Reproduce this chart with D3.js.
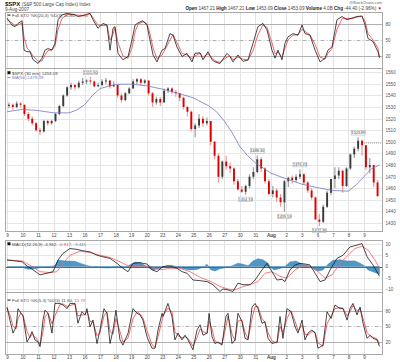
<!DOCTYPE html>
<html>
<head>
<meta charset="utf-8">
<script src="https://cdn.jsdelivr.net/npm/d3@7"></script>
<style>
  body { margin: 0; background: #fff; }
  text { font-family: "Liberation Sans", Arial, sans-serif; }
</style>
</head>
<body>
<div id="chart"></div>
<script>
// ---- data (30 min $SPX, 9 Jul - 9 Aug 2007) ----
var dayLabels = ["9", "10", "11", "12", "13", "16", "17", "18", "19", "20", "23", "24", "25",
  "26", "27", "30", "31", "Aug", "2", "3", "6", "7", "8", "9"];

// four bars per trading day, open = previous close
var firstOpen = 1531;
var highs = [
  1534, 1533, 1535, 1534, 1532, 1526, 1522, 1517, 1512, 1519, 1519, 1519,
  1525, 1532, 1541, 1548, 1551, 1550, 1553, 1555, 1554, 1555.9, 1553, 1551,
  1554, 1555, 1553, 1552, 1549, 1542, 1543, 1547, 1554, 1555, 1555, 1554,
  1553, 1543, 1539, 1539, 1546, 1547, 1547, 1545, 1542, 1539, 1531, 1527,
  1516, 1524, 1522, 1521, 1518, 1501, 1490, 1484, 1488, 1482, 1478, 1468,
  1462, 1463, 1472, 1478, 1488.3, 1487, 1478, 1468, 1462, 1460, 1455, 1467,
  1470, 1471, 1472, 1476.4, 1473, 1466, 1460, 1453, 1438, 1446, 1458, 1468,
  1478, 1478, 1476, 1478, 1490, 1496, 1503.9, 1502, 1497, 1486, 1480, 1467];
var lows = [
  1529, 1528, 1529, 1530, 1522, 1518, 1514, 1509, 1506, 1508, 1514, 1515,
  1517, 1523, 1530, 1539, 1545, 1545, 1546, 1549, 1550, 1550, 1547, 1547,
  1548, 1550, 1546, 1547, 1538, 1534, 1535, 1541, 1546, 1550, 1549, 1550,
  1540, 1530, 1532, 1531, 1534, 1542, 1541, 1539, 1535, 1528, 1522, 1509,
  1504, 1512, 1513, 1514, 1497, 1485, 1465, 1468, 1476, 1473, 1463, 1458,
  1456, 1454.3, 1460, 1468, 1473, 1474, 1464, 1454, 1452, 1448, 1444, 1439.6,
  1461, 1464, 1465, 1468, 1463, 1456, 1450, 1433, 1427.4, 1430, 1443, 1454,
  1460, 1468, 1456, 1461, 1476, 1486, 1492, 1488, 1476, 1473, 1461, 1453];
var closes = [
  1532, 1530, 1533, 1532, 1524, 1520, 1516, 1510, 1509, 1518, 1516, 1518,
  1524, 1531, 1540, 1547, 1549, 1547, 1551, 1552, 1553, 1552, 1548, 1549,
  1552, 1553, 1548, 1549, 1540, 1536, 1542, 1546, 1552, 1554, 1551, 1553,
  1542, 1534, 1537, 1534, 1544, 1546, 1543, 1542, 1538, 1530, 1526, 1511,
  1514, 1520, 1516, 1518, 1500, 1488, 1470, 1483, 1479, 1477, 1466, 1459,
  1457, 1462, 1470, 1474, 1485, 1477, 1466, 1455, 1458, 1452, 1448, 1466,
  1469, 1467, 1470, 1472, 1465, 1458, 1452, 1433, 1431, 1444, 1456, 1468,
  1471, 1475, 1462, 1477, 1489, 1494, 1501, 1497, 1478, 1480, 1465, 1453.09];

// MA(50) as [day, value]
var maLine = [[0, 1526], [1, 1528], [2, 1527], [3, 1525], [4, 1525], [4.5, 1527.5], [5, 1532],
  [5.5, 1540], [6, 1546], [7, 1549.6], [8, 1549.8], [9, 1548.3], [10, 1545.5], [11, 1542],
  [12, 1538], [13, 1531], [13.5, 1526], [14, 1518], [14.5, 1508], [15, 1496], [15.5, 1488],
  [16, 1482], [17, 1473], [18, 1468], [19, 1463.5], [20, 1460.5], [21, 1458], [22, 1457.5],
  [22.5, 1463], [23, 1470], [23.5, 1477], [24, 1480]];
var prevClose = 1499;

// price labels: [day, price, above?]
var priceNotes = [[5.375, 1555.90, true], [15.375, 1454.33, false], [16.125, 1488.30, true],
  [17.875, 1439.59, false], [18.875, 1476.43, true], [20.125, 1427.39, false], [22.625, 1503.89, true]];

// Full STO(20,3) upper panel
var stoTopT = [0, 0.32, 0.52, 0.71, 0.97, 1.10, 1.29, 1.48, 1.68, 2.00, 2.26, 2.45, 2.64, 2.90, 3.09,
  3.29, 3.54, 3.87, 4.38, 4.57, 5.03, 5.35, 5.54, 5.86, 6.19, 6.44, 6.64, 6.83, 6.96, 7.15, 7.47,
  7.80, 8.05, 8.25, 8.44, 8.76, 9.02, 9.21, 9.41, 9.66, 9.99, 10.18, 10.50, 10.70, 10.95, 11.28,
  11.60, 11.92, 12.11, 12.44, 12.63, 12.95, 13.21, 13.40, 13.72, 14.18, 14.37, 14.56, 14.88,
  15.21, 15.53, 15.85, 16.17, 16.49, 16.75, 17.07, 17.27, 17.46, 17.72, 17.91, 18.11, 18.43,
  18.75, 19.01, 19.20, 19.52, 19.85, 20.17, 20.49, 20.68, 20.94, 21.26, 21.59, 21.91, 22.23,
  22.55, 22.87, 23.07, 23.26, 23.58, 23.90, 24.00];
var stoTopK = [91, 78, 75, 81, 86, 31, 28, 28, 13, 6, 16, 31, 34, 31, 44, 88, 97, 100, 97, 94,
  97, 100, 88, 72, 81, 78, 31, 72, 75, 25, 13, 19, 50, 78, 82, 86, 78, 50, 22, 9, 31, 34, 62, 59,
  37, 19, 25, 9, 25, 26, 13, 28, 13, 9, 6, 25, 19, 9, 22, 10, 13, 44, 75, 81, 69, 31, 16, 31, 13,
  44, 56, 62, 59, 78, 62, 59, 31, 9, 16, 31, 37, 88, 94, 88, 91, 94, 95, 78, 53, 47, 28, 16.8];
var stoTopD = [88, 82, 77, 78, 82, 55, 35, 29, 20, 10, 11, 22, 30, 32, 38, 70, 90, 98, 98, 95,
  96, 99, 92, 78, 77, 78, 50, 60, 73, 45, 20, 16, 35, 65, 80, 84, 81, 62, 35, 15, 22, 32, 50, 60,
  45, 25, 22, 15, 20, 25, 18, 24, 17, 11, 8, 18, 20, 13, 18, 14, 12, 30, 60, 78, 74, 45, 24, 27,
  18, 35, 50, 59, 60, 70, 66, 60, 42, 18, 14, 25, 34, 70, 90, 90, 90, 93, 94, 85, 62, 50, 35, 16.8];

// MACD(12,26,9)
var macdLine = [[0, 2.9], [0.97, 2.1], [1.29, 0.2], [1.68, -1.5], [2.13, -3.7], [2.58, -3.0],
  [2.96, -2.3], [3.29, 2.9], [3.61, 5.8], [4.06, 8.0], [4.51, 7.6], [4.90, 7.0], [5.35, 6.5],
  [5.80, 5.0], [6.19, 4.3], [6.64, 3.6], [7.09, 1.4], [7.47, -0.8], [7.80, -2.3], [8.12, 1.4],
  [8.57, 1.7], [9.02, 1.1], [9.34, -1.5], [9.66, -2.3], [10.05, 0.0], [10.50, 0.2], [10.95, -0.8],
  [11.28, -2.3], [11.60, -3.0], [11.98, -6.0], [12.44, -6.3], [12.89, -6.7], [13.27, -8.1],
  [13.72, -11.1], [13.92, -10.0], [14.24, -10.4], [14.56, -11.1], [14.88, -7.4], [15.21, -8.1],
  [15.66, -8.1], [15.98, -6.0], [16.43, -1.5], [16.75, 1.4], [17.07, -2.3], [17.40, -6.0],
  [17.72, -5.7], [17.91, -6.7], [18.23, -1.5], [18.56, 0.7], [18.88, 1.4], [19.20, 1.1],
  [19.52, 0.7], [19.85, -3.0], [20.17, -6.7], [20.49, -6.0], [20.82, -1.5], [21.26, 3.6],
  [21.65, 5.0], [22.10, 8.7], [22.55, 9.5], [22.87, 10.2], [23.20, 4.3], [23.58, 0.7], [24.00, -4.36]];
var macdSignal = [[0, 2.9], [0.97, 2.5], [1.68, -0.2], [2.13, -2.3], [2.77, -2.7], [3.22, -2.3],
  [3.61, 1.4], [4.06, 5.0], [4.70, 6.8], [5.35, 6.2], [5.99, 5.0], [6.64, 4.0], [7.28, 2.1],
  [7.93, -0.2], [8.57, 0.2], [9.21, 0.2], [9.86, -1.5], [10.50, -0.8], [11.15, -0.8], [11.79, -2.3],
  [12.44, -4.8], [12.89, -6.0], [13.27, -7.1], [13.72, -8.9], [14.24, -10.0], [14.69, -10.4],
  [15.21, -8.9], [15.66, -8.1], [16.17, -6.7], [16.62, -3.0], [17.07, -2.3], [17.59, -4.4],
  [18.04, -5.2], [18.56, -1.5], [19.01, 0.2], [19.52, 0.2], [20.04, -2.3], [20.49, -5.2],
  [20.94, -3.7], [21.46, 1.4], [21.97, 5.0], [22.42, 8.0], [22.87, 9.0], [23.26, 7.3],
  [23.71, 2.9], [24.00, -0.92]];
var macdHist = [[0, 0], [0.84, 0], [1.03, -0.5], [1.35, -1.2], [1.80, -1.0], [2.13, -0.5],
  [2.64, -0.3], [3.09, 0.5], [3.29, 2.9], [3.74, 2.5], [4.38, 2.3], [4.70, 1.5], [5.22, 0.3],
  [5.99, -0.5], [6.51, -0.7], [7.15, -0.2], [7.60, -0.5], [7.93, 0.8], [8.25, 2.0], [8.57, 1.8],
  [8.89, 0.5], [9.21, -1.0], [9.41, -1.5], [9.86, -0.8], [10.31, 0.5], [10.63, 0.5], [10.95, 0],
  [11.34, -1.0], [11.79, -1.5], [12.24, -1.3], [12.63, -0.3], [12.89, 1.0], [13.14, -1.5],
  [13.40, -2.0], [13.72, -1.0], [14.24, -0.3], [14.56, 0.5], [14.88, 1.5], [15.21, 1.0],
  [15.53, 0.3], [15.85, 2.5], [16.17, 3.5], [16.49, 3.0], [16.82, 1.5], [17.01, -0.5],
  [17.20, -1.5], [17.53, -1.0], [17.85, -0.3], [18.23, 2.0], [18.62, 2.5], [19.01, 1.0],
  [19.39, 0.5], [19.72, -1.0], [20.04, -2.0], [20.36, -1.5], [20.68, 1.0], [21.00, 2.8],
  [21.46, 3.0], [21.91, 2.5], [22.42, 2.5], [22.75, 1.5], [23.00, 0.5], [23.26, -1.5],
  [23.65, -2.5], [24.00, -3.44]];

// Full STO(5,3) lower panel
var stoBotT = [0, 0.19, 0.39, 0.58, 0.71, 0.90, 1.03, 1.29, 1.48, 1.61, 1.80, 2.00, 2.13, 2.32,
  2.45, 2.64, 2.90, 3.09, 3.41, 3.61, 3.87, 4.06, 4.38, 4.57, 4.83, 5.03, 5.15, 5.35, 5.54, 5.80,
  5.99, 6.25, 6.44, 6.64, 6.83, 7.02, 7.28, 7.47, 7.80, 8.12, 8.38, 8.57, 8.76, 9.02, 9.34, 9.54,
  9.73, 9.99, 10.05, 10.37, 10.63, 10.82, 11.02, 11.28, 11.47, 11.66, 11.98, 12.24, 12.44, 12.63,
  12.89, 13.02, 13.21, 13.40, 13.60, 13.85, 14.11, 14.24, 14.50, 14.69, 14.88, 15.14, 15.34,
  15.53, 15.79, 15.98, 16.17, 16.43, 16.62, 16.82, 17.07, 17.40, 17.59, 17.78, 18.04, 18.30,
  18.56, 18.75, 19.01, 19.20, 19.39, 19.65, 19.85, 20.04, 20.36, 20.62, 20.88, 21.13, 21.46,
  21.65, 21.91, 22.10, 22.29, 22.55, 22.75, 22.94, 23.20, 23.39, 23.58, 23.84, 24.00];
var stoBotK = [87, 62, 37, 49, 84, 75, 70, 20, 30, 40, 24, 20, 11, 62, 81, 75, 37, 94, 94, 91,
  84, 94, 94, 56, 78, 72, 84, 49, 62, 17, 43, 84, 75, 17, 43, 81, 24, 14, 37, 84, 75, 72, 62, 30,
  8, 8, 43, 75, 69, 94, 69, 24, 37, 24, 33, 24, 5, 43, 53, 33, 37, 75, 30, 17, 20, 14, 69, 75, 17,
  24, 75, 59, 27, 24, 87, 94, 84, 56, 59, 27, 17, 20, 69, 27, 84, 78, 49, 37, 62, 24, 37, 43, 37,
  8, 14, 78, 65, 91, 84, 84, 62, 84, 94, 72, 87, 56, 27, 33, 27, 24, 11.6];
var stoBotD = [85, 72, 50, 45, 65, 76, 72, 40, 28, 35, 30, 22, 15, 40, 68, 76, 55, 70, 92, 93,
  88, 90, 93, 70, 72, 72, 80, 60, 58, 32, 38, 70, 78, 40, 35, 65, 40, 20, 28, 65, 78, 74, 66, 42,
  15, 10, 30, 62, 70, 85, 78, 40, 32, 28, 30, 27, 12, 28, 45, 40, 36, 60, 45, 22, 18, 16, 50, 70,
  35, 22, 60, 62, 38, 26, 65, 88, 88, 65, 58, 38, 22, 18, 50, 38, 65, 80, 60, 42, 52, 35, 33, 40,
  39, 18, 12, 55, 70, 84, 86, 85, 70, 78, 90, 80, 84, 65, 38, 32, 29, 26, 15.73];

var priceTicks = d3.range(1430, 1561, 10);
var stoTicks = [20, 50, 80];
var macdTicks = [-10, -5, 0, 5, 10];

// ---- layout ----
var W = 400, H = 362;
var left = 5.5, right = 382.5;
var svg = d3.select("#chart").append("svg").attr("width", W).attr("height", H);

var x = d3.scaleLinear().domain([0, 24]).range([7, 379.5]);

var pTop = { top: 12.5, bottom: 68.5 },
    pPrice = { top: 68.5, bottom: 231.5 },
    pMacd = { top: 240.5, bottom: 292.5 },
    pBot = { top: 292.5, bottom: 354.5 };

var yTop = d3.scaleLinear().domain([0, 100]).range([66.7, 13.3]);
var yPrice = d3.scaleLinear().domain([1430, 1560]).range([223, 72.3]);
var yMacd = d3.scaleLinear().domain([-10, 10]).range([289, 244]);
var yBot = d3.scaleLinear().domain([0, 100]).range([352.4, 300.3]);

var defs = svg.append("defs");
function panel(p, id) {
  defs.append("clipPath").attr("id", id)
    .append("rect").attr("x", left).attr("y", p.top).attr("width", right - left).attr("height", p.bottom - p.top);
  var g = svg.append("g");
  // vertical day grid
  g.selectAll("line.vg").data(d3.range(24)).enter().append("line")
    .attr("x1", function (d) { return Math.round(x(d)) + 0.5; })
    .attr("x2", function (d) { return Math.round(x(d)) + 0.5; })
    .attr("y1", p.top).attr("y2", p.bottom)
    .attr("stroke", "#e3e3e3").attr("stroke-width", 1);
  return g;
}
function frame(p) {
  svg.append("rect").attr("x", left).attr("y", p.top)
    .attr("width", right - left).attr("height", p.bottom - p.top)
    .attr("fill", "none").attr("stroke", "#a8a8a8").attr("stroke-width", 1);
}
function rightAxis(scale, ticks, fmt) {
  var ax = svg.append("g").attr("transform", "translate(" + (right + 1) + ",0)")
    .call(d3.axisRight(scale).tickValues(ticks).tickSize(0).tickPadding(2).tickFormat(fmt || d3.format("d")));
  ax.select(".domain").remove();
  ax.selectAll("text").attr("font-size", 4.6).attr("fill", "#555").style("font-family", "Liberation Sans, Arial, sans-serif");
}
function hline(g, y, color, dash) {
  g.append("line").attr("x1", left).attr("x2", right)
    .attr("y1", Math.round(y) + 0.5).attr("y2", Math.round(y) + 0.5)
    .attr("stroke", color).attr("stroke-width", 1)
    .attr("stroke-dasharray", dash || null);
}
function dateAxis(yPos) {
  var ax = svg.append("g").attr("transform", "translate(0," + yPos + ")")
    .call(d3.axisBottom(x).tickValues(d3.range(24)).tickSize(0).tickPadding(0)
      .tickFormat(function (d) { return dayLabels[d]; }));
  ax.select(".domain").remove();
  ax.selectAll("text").attr("font-size", 4.6).attr("fill", "#444")
    .style("font-family", "Liberation Sans, Arial, sans-serif")
    .attr("font-weight", function (d) { return dayLabels[d] === "Aug" ? "bold" : null; });
}
function series(g, clip, pts, scale, color, width) {
  g.append("path").datum(pts)
    .attr("clip-path", "url(#" + clip + ")")
    .attr("fill", "none").attr("stroke", color).attr("stroke-width", width)
    .attr("stroke-linejoin", "round")
    .attr("d", d3.line().x(function (d) { return x(d[0]); }).y(function (d) { return scale(d[1]); }));
}
function zip(ts, vs) { return ts.map(function (t, i) { return [t, vs[i]]; }); }

// ---- header ----
var hdr = svg.append("g").attr("font-size", 4.6).attr("fill", "#444");
hdr.append("text").attr("x", 5).attr("y", 6.3)
  .html('<tspan font-weight="bold" font-size="6" fill="#111">$SPX</tspan> <tspan>(S&amp;P 500 Large Cap Index) Index</tspan>');
hdr.append("text").attr("x", 5).attr("y", 11.2).text("9-Aug-2007");
hdr.append("text").attr("x", 382).attr("y", 4.2).attr("text-anchor", "end").attr("font-size", 3.8).attr("fill", "#666").text("@StockCharts.com");
hdr.append("text").attr("x", 382).attr("y", 10).attr("text-anchor", "end")
  .html('<tspan font-weight="bold" fill="#222">Open</tspan> 1467.21 <tspan font-weight="bold" fill="#222">High</tspan> 1467.21 ' +
    '<tspan font-weight="bold" fill="#222">Low</tspan> 1453.09 <tspan font-weight="bold" fill="#222">Close</tspan> 1453.09 ' +
    '<tspan font-weight="bold" fill="#222">Volume</tspan> 4.0B <tspan font-weight="bold" fill="#222">Chg</tspan> -44.40 (-2.96%) ' +
    '<tspan fill="#d00">\u25BC</tspan>');

// ---- top STO panel ----
var gTop = panel(pTop, "cTop");
hline(gTop, yTop(80), "#b0b0b0");
hline(gTop, yTop(20), "#b0b0b0");
hline(gTop, yTop(50), "#b0b0b0", "4,2,1,2");
series(gTop, "cTop", zip(stoTopT, stoTopD), yTop, "#f25555", 0.9);
series(gTop, "cTop", zip(stoTopT, stoTopK), yTop, "#1a1a1a", 0.8);
frame(pTop);
rightAxis(yTop, stoTicks);
var lgTop = svg.append("g").attr("font-size", 4.4).attr("fill", "#444");
lgTop.append("rect").attr("x", 7.5).attr("y", 14.6).attr("width", 3).attr("height", 1).attr("fill", "#111");
lgTop.append("text").attr("x", 12).attr("y", 16.5)
  .html('Full STO %K(20,3) %D(3) 16.80, <tspan fill="#e44">16.80</tspan>');

// ---- price panel ----
var gPrice = panel(pPrice, "cPrice");
priceTicks.forEach(function (v) { hline(gPrice, yPrice(v), "#e6e6e6"); });

var bars = closes.map(function (c, i) {
  return {
    t: Math.floor(i / 4) + (i % 4 + 0.5) / 4,
    o: i ? closes[i - 1] : firstOpen,
    h: highs[i], l: lows[i], c: c
  };
});
var gBars = gPrice.append("g").attr("clip-path", "url(#cPrice)");
gBars.selectAll("line.wick").data(bars).enter().append("line")
  .attr("x1", function (d) { return x(d.t); }).attr("x2", function (d) { return x(d.t); })
  .attr("y1", function (d) { return yPrice(d.h); }).attr("y2", function (d) { return yPrice(d.l); })
  .attr("stroke", function (d) { return d.c < d.o ? "#ef9a9a" : "#9e9e9e"; })
  .attr("stroke-width", 1.2);
gBars.selectAll("line.body").data(bars).enter().append("line")
  .attr("x1", function (d) { return x(d.t); }).attr("x2", function (d) { return x(d.t); })
  .attr("y1", function (d) { return yPrice(d.o); })
  .attr("y2", function (d) { return yPrice(d.c) + (Math.abs(d.c - d.o) < 0.8 ? 0.8 : 0); })
  .attr("stroke", function (d) { return d.c < d.o ? "#dd0000" : "#3a3a3a"; })
  .attr("stroke-width", 1.9);

series(gPrice, "cPrice", maLine, yPrice, "#7377c0", 0.8);

// previous close marker on the last day
gPrice.append("line").attr("x1", x(23)).attr("x2", right)
  .attr("y1", yPrice(prevClose)).attr("y2", yPrice(prevClose))
  .attr("stroke", "#777").attr("stroke-width", 0.7).attr("stroke-dasharray", "1,1");

// price notes
var notes = gPrice.selectAll("g.note").data(priceNotes).enter().append("g")
  .attr("transform", function (d) {
    var yy = d[2] ? yPrice(d[1]) - 4.5 : yPrice(d[1]) + 4.5;
    return "translate(" + x(d[0]) + "," + yy + ")";
  });
notes.append("rect").attr("x", -7).attr("y", -2.2).attr("width", 14).attr("height", 4.4)
  .attr("fill", "#fff").attr("stroke", "#aaa").attr("stroke-width", 0.5);
notes.append("text").attr("text-anchor", "middle").attr("y", 1.4).attr("font-size", 3.8).attr("fill", "#444")
  .text(function (d) { return d[1].toFixed(2); });

frame(pPrice);
rightAxis(yPrice, priceTicks);
var lgPrice = svg.append("g").attr("font-size", 4.4);
lgPrice.append("rect").attr("x", 7.5).attr("y", 71.2).attr("width", 3).attr("height", 3).attr("fill", "#111");
lgPrice.append("text").attr("x", 12).attr("y", 74.5).attr("fill", "#444").text("$SPX (30 min) 1453.09");
lgPrice.append("rect").attr("x", 7.5).attr("y", 77.2).attr("width", 3).attr("height", 0.8).attr("fill", "#7377c0");
lgPrice.append("text").attr("x", 12).attr("y", 79.3).attr("fill", "#7377c0").text("MA(50) 1479.39");

dateAxis(234);

// ---- MACD panel ----
var gMacd = panel(pMacd, "cMacd");
macdTicks.forEach(function (v) { hline(gMacd, yMacd(v), v === 0 ? "#d6d6d6" : "#e6e6e6"); });
gMacd.append("path").datum(macdHist)
  .attr("clip-path", "url(#cMacd)")
  .attr("fill", "#3c8dc0").attr("fill-opacity", 0.9)
  .attr("stroke", "#2a75a8").attr("stroke-width", 0.4)
  .attr("d", d3.area().x(function (d) { return x(d[0]); }).y0(yMacd(0)).y1(function (d) { return yMacd(d[1]); }));
hline(gMacd, yMacd(0), "#2a75a8");
series(gMacd, "cMacd", macdSignal, yMacd, "#f26060", 0.8);
series(gMacd, "cMacd", macdLine, yMacd, "#1a1a1a", 0.8);
frame(pMacd);
rightAxis(yMacd, macdTicks);
var lgMacd = svg.append("g").attr("font-size", 4.4);
lgMacd.append("rect").attr("x", 7.5).attr("y", 242.3).attr("width", 3).attr("height", 3).attr("fill", "#111");
lgMacd.append("text").attr("x", 12).attr("y", 245.5).attr("fill", "#444")
  .html('MACD(12,26,9) -4.362, <tspan fill="#e44">-0.917</tspan>, <tspan fill="#3c8dc0">-3.445</tspan>');

// ---- bottom STO panel ----
var gBot = panel(pBot, "cBot");
hline(gBot, yBot(80), "#b0b0b0");
hline(gBot, yBot(20), "#b0b0b0");
hline(gBot, yBot(50), "#b0b0b0", "4,2,1,2");
series(gBot, "cBot", zip(stoBotT, stoBotD), yBot, "#f25555", 0.9);
series(gBot, "cBot", zip(stoBotT, stoBotK), yBot, "#1a1a1a", 0.8);
frame(pBot);
rightAxis(yBot, stoTicks);
var lgBot = svg.append("g").attr("font-size", 4.4).attr("fill", "#444");
lgBot.append("rect").attr("x", 7.5).attr("y", 299.6).attr("width", 3).attr("height", 1).attr("fill", "#111");
lgBot.append("text").attr("x", 12).attr("y", 301.5)
  .html('Full STO %K(5,3) %D(3) 11.60, <tspan fill="#e44">15.73</tspan>');

dateAxis(355.5);
</script>
</body>
</html>
